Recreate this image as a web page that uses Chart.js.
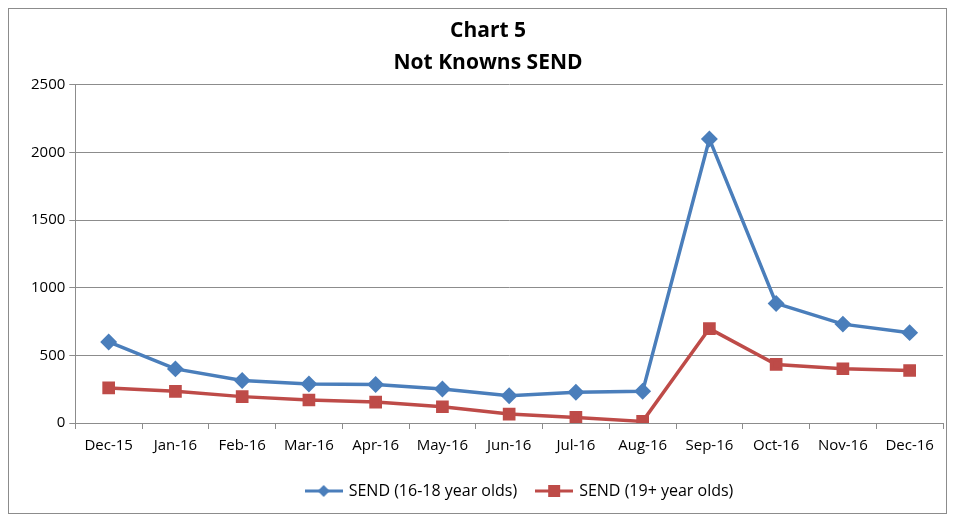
<!DOCTYPE html>
<html>
<head>
<meta charset="utf-8">
<script src="https://cdn.jsdelivr.net/npm/chart.js@4.4.0/dist/chart.umd.min.js"></script>
<style>
  html, body { margin: 0; padding: 0; background: #fff; }
  #wrap { position: relative; width: 953px; height: 518px; }
  #frame { position: absolute; left: 8px; top: 8px; width: 939px; height: 506px; border: 1px solid #8c8c8c; box-sizing: border-box; pointer-events: none; }
  canvas { position: absolute; left: 0; top: 0; }
</style>
</head>
<body>
<div id="wrap">
  <canvas id="c" width="953" height="518"></canvas>
  <div id="frame"></div>
</div>
<script>
const categories = ["Dec-15","Jan-16","Feb-16","Mar-16","Apr-16","May-16","Jun-16","Jul-16","Aug-16","Sep-16","Oct-16","Nov-16","Dec-16"];
const send16to18 = [599, 400, 314, 289, 285, 251, 202, 227, 234, 2100, 884, 731, 668];
const send19plus = [259, 234, 195, 170, 155, 120, 66, 41, 12, 698, 433, 401, 388];
const yTicks = [0, 500, 1000, 1500, 2000, 2500];
const titleLines = ["Chart 5", "Not Knowns SEND"];
const seriesNames = ["SEND (16-18 year olds)", "SEND (19+ year olds)"];

const BLUE = "#4a7ebb";
const RED = "#be4b48";

function legendIcon(color, shape) {
  const c = document.createElement("canvas");
  c.width = 38; c.height = 14;
  const g = c.getContext("2d");
  g.strokeStyle = color; g.lineWidth = 3;
  g.beginPath(); g.moveTo(0, 7); g.lineTo(38, 7); g.stroke();
  g.fillStyle = color;
  if (shape === "diamond") {
    g.beginPath(); g.moveTo(19, 1); g.lineTo(25, 7); g.lineTo(19, 13); g.lineTo(13, 7); g.closePath(); g.fill();
  } else {
    g.fillRect(13, 1, 12, 12);
  }
  return c;
}
const iconBlue = legendIcon(BLUE, "diamond");
const iconRed = legendIcon(RED, "square");

const FONT = "'Open Sans', Lato, sans-serif";

const legendShift = {
  id: "legendShift",
  afterLayout(chart) {
    if (chart.legend) { chart.legend.left += 32; chart.legend.right += 32; }
  }
};

new Chart(document.getElementById("c"), {
  type: "line",
  plugins: [legendShift],
  data: {
    labels: categories,
    datasets: [
      {
        label: seriesNames[0], data: send16to18,
        borderColor: BLUE, backgroundColor: BLUE, borderWidth: 3.5,
        pointStyle: "rectRot", pointRadius: 6, pointHoverRadius: 6,
        tension: 0
      },
      {
        label: seriesNames[1], data: send19plus,
        borderColor: RED, backgroundColor: RED, borderWidth: 3.5,
        pointStyle: "rect", pointRadius: 6.5, pointHoverRadius: 6.5,
        tension: 0
      }
    ]
  },
  options: {
    responsive: false,
    animation: false,
    layout: { padding: { left: 27, right: 4, top: 13, bottom: 9 } },
    plugins: {
      title: {
        display: true, text: titleLines, color: "#000",
        font: { family: FONT, size: 21, weight: "bold", lineHeight: 1.52 },
        padding: { top: 2, bottom: 6 }
      },
      legend: {
        position: "bottom",
        labels: {
          usePointStyle: true,
          pointStyleWidth: 34,
          boxHeight: 14,
          color: "#000",
          font: { family: FONT, size: 16 },
          padding: 20,
          generateLabels: (chart) => chart.data.datasets.map((ds, i) => ({
            text: ds.label,
            pointStyle: i === 0 ? iconBlue : iconRed,
            fillStyle: ds.borderColor, strokeStyle: ds.borderColor,
            lineWidth: 0, datasetIndex: i, hidden: false
          }))
        }
      },
      tooltip: { enabled: false }
    },
    scales: {
      x: {
        offset: true,
        grid: { offset: true, drawOnChartArea: false, drawTicks: true, tickLength: 6, color: "#8c8c8c" },
        border: { color: "#8c8c8c" },
        ticks: { color: "#000", font: { family: FONT, size: 15 }, maxRotation: 0, autoSkip: false, padding: 8 }
      },
      y: {
        min: yTicks[0], max: yTicks[yTicks.length - 1],
        afterBuildTicks: (axis) => { axis.ticks = yTicks.map(v => ({ value: v })); },
        grid: { color: "#8c8c8c", tickLength: 6 },
        border: { color: "#8c8c8c" },
        ticks: { color: "#000", font: { family: FONT, size: 15 }, padding: 4, callback: (v) => String(v) }
      }
    }
  }
});
</script>
</body>
</html>
